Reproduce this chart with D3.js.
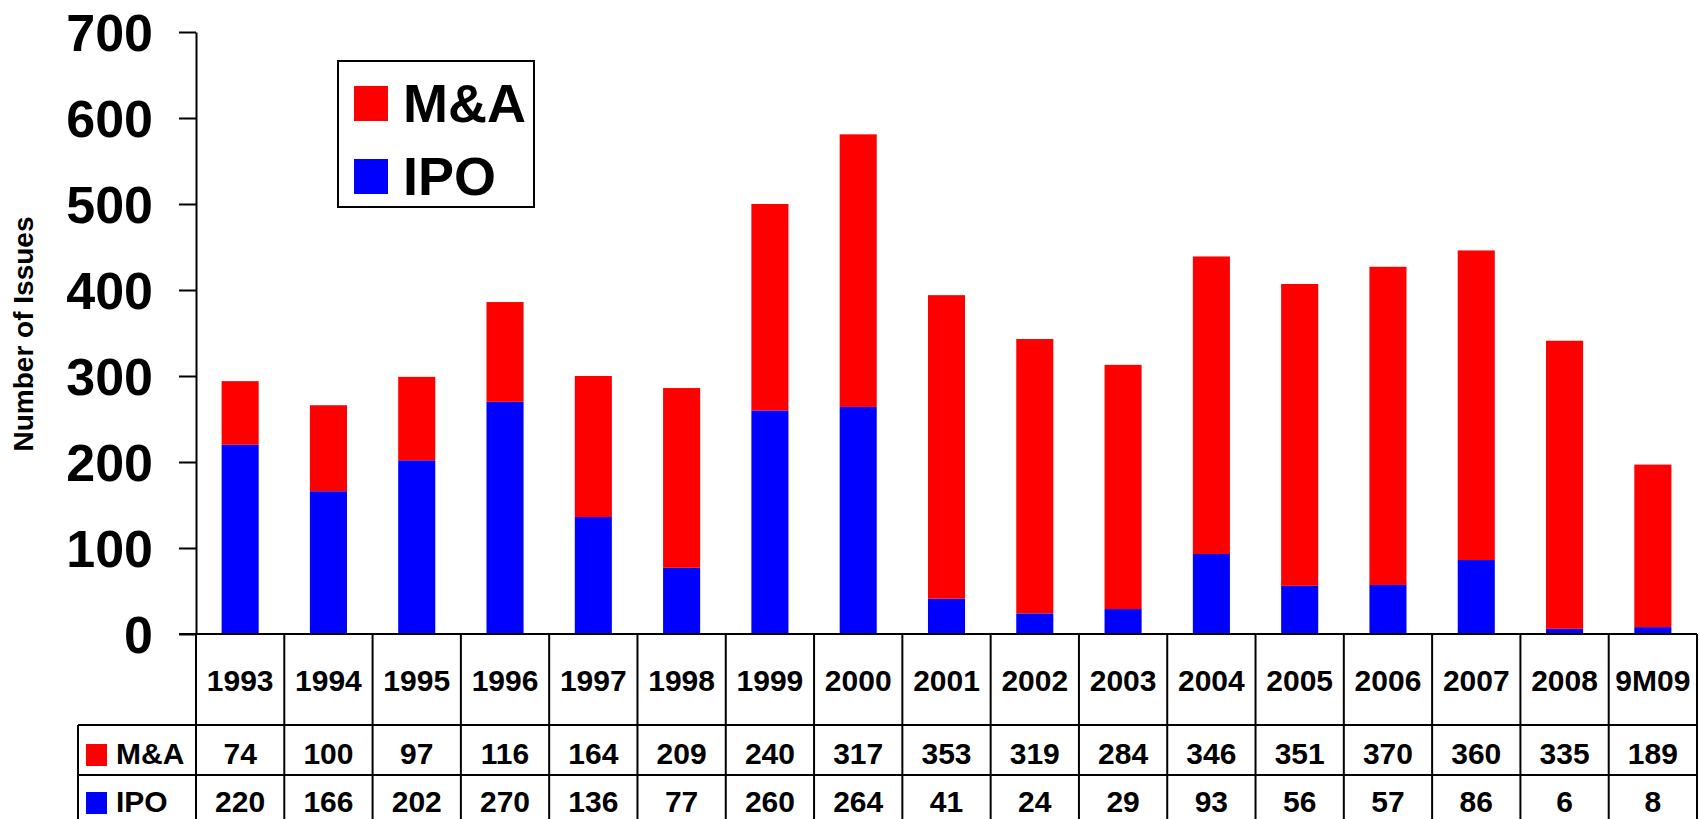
<!DOCTYPE html>
<html>
<head>
<meta charset="utf-8">
<script src="https://cdn.jsdelivr.net/npm/d3@7"></script>
<style>
  body { margin: 0; background: #fff; }
  svg { display: block; font-family: "Liberation Sans", Arial, sans-serif; font-weight: bold; }
</style>
</head>
<body>
<div id="chart"></div>
<script>
var years = ["1993","1994","1995","1996","1997","1998","1999","2000","2001","2002","2003","2004","2005","2006","2007","2008","9M09"]
var maValues = [74,100,97,116,164,209,240,317,353,319,284,346,351,370,360,335,189]
var ipoValues = [220,166,202,270,136,77,260,264,41,24,29,93,56,57,86,6,8]
var yTicks = [0,100,200,300,400,500,600,700]
var seriesNames = ["M&A","IPO"]
var seriesColors = {"M&A":"#ff0000","IPO":"#0000ff"}

var W = 1700, H = 819
var plotLeft = 196, plotRight = 1697, plotTop = 32, plotBottom = 634
var rowYear = 725, rowMA = 775, rowIPO = 824, labelLeft = 78

var svg = d3.select("#chart").append("svg")
    .attr("width", W)
    .attr("height", H)

var cols = d3.scaleBand().domain(years).range([plotLeft, plotRight])
var x = d3.scaleBand().domain(years).range([plotLeft, plotRight])
    .paddingInner(0.58).paddingOuter(0.29)
var y = d3.scaleLinear().domain([0, 700]).range([plotBottom, plotTop])

// stacked data: IPO at the bottom, M&A on top
var stackData = years.map(function(d, i){ return {year:d, "IPO":ipoValues[i], "M&A":maValues[i]} })
var stack = d3.stack().keys(["IPO","M&A"])(stackData)

svg.append("g").selectAll("g")
  .data(stack)
  .enter()
  .append("g")
  .attr("fill", function(s){ return seriesColors[s.key] })
  .selectAll("rect")
  .data(function(s){ return s })
  .enter()
  .append("rect")
  .attr("x", function(d){ return x(d.data.year) })
  .attr("y", function(d){ return y(d[1]) })
  .attr("width", x.bandwidth())
  .attr("height", function(d){ return y(d[0]) - y(d[1]) })

// y axis
var yAxis = svg.append("g")
  .attr("transform", "translate(" + plotLeft + ",0)")
  .call(d3.axisLeft(y).tickValues(yTicks).tickSize(17).tickSizeOuter(0).tickPadding(26))
yAxis.select(".domain").attr("stroke", "#000").attr("stroke-width", 2)
yAxis.selectAll(".tick line").attr("stroke", "#000").attr("stroke-width", 2)
yAxis.selectAll(".tick text")
  .attr("fill", "#000")
  .style("font-size", "52px")
  .style("font-family", "Liberation Sans, Arial, sans-serif")
  .style("font-weight", "bold")
  .attr("dy", "0.36em")

svg.append("text")
  .attr("transform", "translate(33,334) rotate(-90)")
  .attr("text-anchor", "middle")
  .style("font-size", "28px")
  .text("Number of Issues")

// legend
var legend = svg.append("g")
legend.append("rect")
  .attr("x", 338).attr("y", 61).attr("width", 196).attr("height", 146)
  .attr("fill", "#fff").attr("stroke", "#000").attr("stroke-width", 2)
seriesNames.forEach(function(name, i){
  legend.append("rect")
    .attr("x", 354).attr("y", 86 + i * 73).attr("width", 34).attr("height", 35)
    .attr("fill", seriesColors[name])
  legend.append("text")
    .attr("x", 403).attr("y", 122 + i * 73)
    .style("font-size", "54px")
    .text(name)
})

// data table
var table = svg.append("g").attr("stroke", "#000").attr("stroke-width", 2)
table.append("line").attr("x1", plotLeft - 17).attr("x2", plotRight).attr("y1", plotBottom).attr("y2", plotBottom)
table.append("line").attr("x1", labelLeft).attr("x2", plotRight).attr("y1", rowYear).attr("y2", rowYear)
table.append("line").attr("x1", labelLeft).attr("x2", plotRight).attr("y1", rowMA).attr("y2", rowMA)
table.append("line").attr("x1", labelLeft).attr("x2", plotRight).attr("y1", rowIPO).attr("y2", rowIPO)
table.append("line").attr("x1", labelLeft).attr("x2", labelLeft).attr("y1", rowYear).attr("y2", rowIPO)
table.selectAll(".vline")
  .data(years.concat(["end"]))
  .enter()
  .append("line")
  .attr("class", "vline")
  .attr("x1", function(d){ return d == "end" ? plotRight : cols(d) })
  .attr("x2", function(d){ return d == "end" ? plotRight : cols(d) })
  .attr("y1", plotBottom)
  .attr("y2", rowIPO)

var cx = function(d){ return cols(d) + cols.bandwidth() / 2 }

svg.append("g").selectAll("text")
  .data(years)
  .enter()
  .append("text")
  .attr("x", cx)
  .attr("y", 691)
  .attr("text-anchor", "middle")
  .style("font-size", "30px")
  .text(function(d){ return d })

var rows = [{name:"M&A", values:maValues, base:764}, {name:"IPO", values:ipoValues, base:812}]
rows.forEach(function(r){
  svg.append("g").selectAll("text")
    .data(years)
    .enter()
    .append("text")
    .attr("x", cx)
    .attr("y", r.base)
    .attr("text-anchor", "middle")
    .style("font-size", "30px")
    .text(function(d, i){ return r.values[i] })
  svg.append("rect")
    .attr("x", 86).attr("y", r.base - 20).attr("width", 21).attr("height", 22)
    .attr("fill", seriesColors[r.name])
  svg.append("text")
    .attr("x", 116).attr("y", r.base)
    .style("font-size", "30px")
    .text(r.name)
})
</script>
</body>
</html>
